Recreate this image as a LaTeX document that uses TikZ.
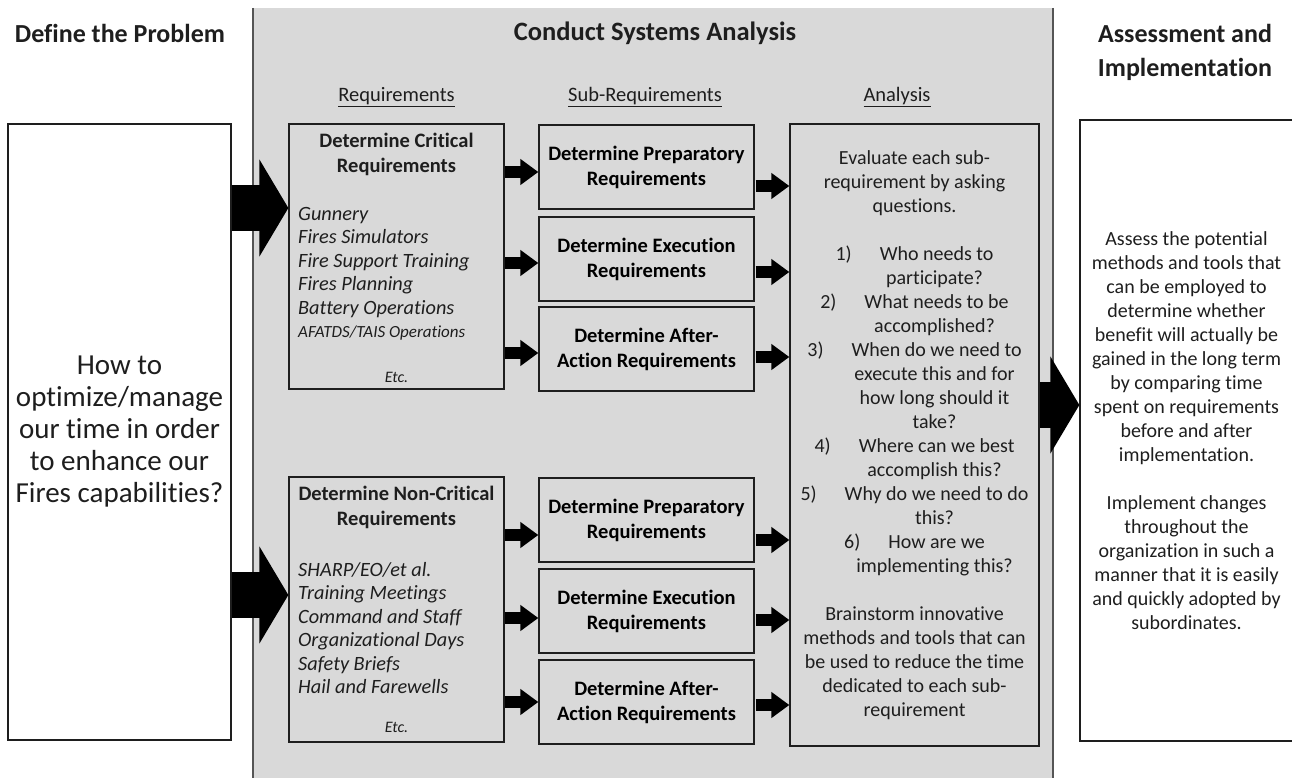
\documentclass[tikz,border=0pt]{standalone}
\usepackage{fontspec}
\setmainfont{Carlito}[Ligatures=NoCommon]
\usetikzlibrary{arrows.meta,calc}
\definecolor{panelgray}{RGB}{217,217,217}
\definecolor{inkgray}{RGB}{30,30,30}
\definecolor{edgegray}{RGB}{85,85,85}

\begin{document}
\begin{tikzpicture}[x=1pt,y=-1pt,
    frame/.style = {draw=inkgray, line width=1.3pt, inner sep=0pt},
    reqbox/.style = {frame, fill=panelgray, minimum width=215pt, minimum height=265pt},
    subbox/.style = {frame, fill=panelgray, minimum width=215pt, minimum height=84pt,
                     align=center, font=\fontsize{20.5}{25}\selectfont\bfseries},
    head/.style = {align=center, text=inkgray, font=\fontsize{26}{34}\selectfont\bfseries},
    col/.style = {text=inkgray, font=\fontsize{20.5}{24}\selectfont},
    body/.style = {align=center, text=inkgray, font=\fontsize{20}{24}\selectfont},
    items/.style = {align=left, text=inkgray, inner sep=0pt, font=\fontsize{20.3}{23.5}\selectfont\itshape},
    note/.style = {text=inkgray, font=\fontsize{16}{18}\selectfont\itshape},
    bigarrow/.style = {line width=46pt, -{Triangle[length=29pt,width=96pt]}},
    smallarrow/.style = {line width=12pt, -{Triangle[length=18pt,width=25pt]}}]
    \useasboundingbox (0,0) rectangle (1292,778);

    % middle panel
    \node at (253,8) [anchor=north west, fill=panelgray, inner sep=0pt,
        minimum width=800pt, minimum height=790pt] (csa) {};
    \draw[edgegray, line width=2pt] (csa.north west) -- (csa.south west);
    \draw[edgegray, line width=2pt] (csa.north east) -- (csa.south east);

    % headings
    \node at (120,33) [head] (h1) {Define the Problem};
    \node at (655,33) [head, font=\fontsize{26.5}{34}\selectfont\bfseries] (h2) {Conduct Systems Analysis};
    \node at (1185,52) [head] (h3) {Assessment and\\Implementation};
    \node at (396.5,97) [col] (c1) {\underline{Requirements}};
    \node at (645,97) [col] (c2) {\underline{Sub-Requirements}};
    \node at (897,97) [col] (c3) {\underline{Analysis}};

    % problem
    \node at (119.5,432) [frame, fill=white, minimum width=223pt, minimum height=616pt,
        body, font=\fontsize{29}{32}\selectfont] (prob)
        {How to\\optimize/manage\\our time in order\\to enhance our\\Fires capabilities?};

    % requirements
    \node at (396.5,256.5) [reqbox] (crit) {};
    \node at (396.5,154.5) [align=center, text=inkgray, font=\fontsize{20.5}{25}\selectfont\bfseries] (crittitle)
        {Determine Critical\\Requirements};
    \node at (298,274) [items, anchor=west] (critlist)
        {Gunnery\\Fires Simulators\\Fire Support Training\\Fires Planning\\Battery Operations\\
         {\fontsize{17}{18}\selectfont AFATDS/TAIS Operations}};
    \node at (396.5,377) [note] (critetc) {Etc.};

    \node at (396.5,609.5) [reqbox] (noncrit) {};
    \node at (396.5,507) [align=center, text=inkgray, font=\fontsize{20.5}{25}\selectfont\bfseries] (noncrittitle)
        {Determine Non-Critical\\Requirements};
    \node at (298,628) [items, anchor=west] (noncritlist)
        {SHARP/EO/et al.\\Training Meetings\\Command and Staff\\Organizational Days\\Safety Briefs\\Hail and Farewells};
    \node at (396.5,727) [note] (noncritetc) {Etc.};

    % sub-requirements
    \node at (646.5,167) [subbox] (prep1) {Determine Preparatory\\Requirements};
    \node at (646.5,259) [subbox] (exec1) {Determine Execution\\Requirements};
    \node at (646.5,349) [subbox] (aar1) {Determine After-\\Action Requirements};
    \node at (646.5,520) [subbox] (prep2) {Determine Preparatory\\Requirements};
    \node at (646.5,611) [subbox] (exec2) {Determine Execution\\Requirements};
    \node at (646.5,702) [subbox] (aar2) {Determine After-\\Action Requirements};

    % analysis
    \node at (914.5,435) [frame, fill=panelgray, minimum width=249pt, minimum height=622pt, body] (ana)
        {Evaluate each sub-\\requirement by asking\\questions.\\[24pt]
         1)\hspace{1.4em}Who needs to\\\hspace*{2em}participate?\\
         2)\hspace{1.4em}What needs to be\\\hspace*{2em}accomplished?\\
         3)\hspace{1.4em}When do we need to\\\hspace*{2em}execute this and for\\
         \hspace*{2em}how long should it\\\hspace*{2em}take?\\
         4)\hspace{1.4em}Where can we best\\\hspace*{2em}accomplish this?\\
         5)\hspace{1.4em}Why do we need to do\\\hspace*{2em}this?\\
         6)\hspace{1.4em}How are we\\\hspace*{2em}implementing this?\\[24pt]
         Brainstorm innovative\\methods and tools that can\\be used to reduce the time\\
         dedicated to each sub-\\requirement};

    % assessment and implementation
    \node at (1186.5,430.5) [frame, fill=white, minimum width=213pt, minimum height=621pt, body] (impl)
        {Assess the potential\\methods and tools that\\can be employed to\\determine whether\\
         benefit will actually be\\gained in the long term\\by comparing time\\
         spent on requirements\\before and after\\implementation.\\[24pt]
         Implement changes\\throughout the\\organization in such a\\manner that it is easily\\
         and quickly adopted by\\subordinates.};

    % arrows
    \draw[bigarrow] (prob.east |- 0,208) -- (crit.west |- 0,208);
    \draw[bigarrow] (prob.east |- 0,595) -- (noncrit.west |- 0,595);
    \draw[bigarrow] (ana.east |- 0,405) -- (impl.west |- 0,405);
    \foreach \s/\dy in {prep1/5, exec1/4, aar1/4, prep2/15, exec2/7, aar2/0}
        \draw[smallarrow] ($(\s.west)+(-33,\dy)$) -- ($(\s.west)+(0,\dy)$);
    \foreach \s/\dy in {prep1/19, exec1/13, aar1/8, prep2/20, exec2/9, aar2/3}
        \draw[smallarrow] ($(\s.east)+(1,\dy)$) coordinate (t) -- (t -| ana.west);
\end{tikzpicture}
\end{document}
